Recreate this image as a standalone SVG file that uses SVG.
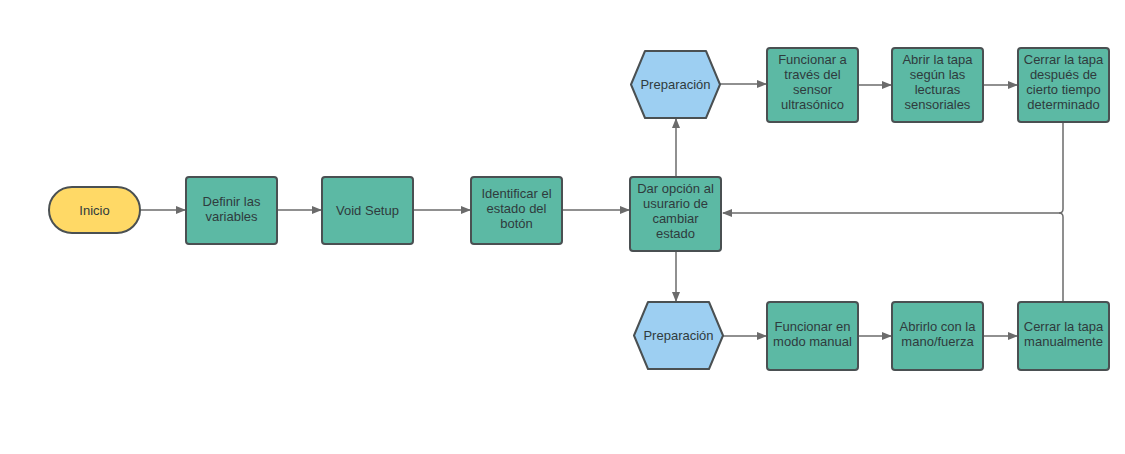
<svg xmlns="http://www.w3.org/2000/svg" width="1125" height="454" viewBox="0 0 1125 454">
<style>
.g{fill:#5cb9a4;stroke:#4a5052;stroke-width:2}
.y{fill:#ffd966;stroke:#4a5052;stroke-width:2}
.b{fill:#9dcff2;stroke:#4a5052;stroke-width:2}
text{font-family:"Liberation Sans",Arial,sans-serif;font-size:13px;fill:#2f3b3d;text-anchor:middle}
.c{fill:none;stroke:#6b6b6b;stroke-width:1.5}
</style>
<defs>
<marker id="a" markerWidth="10" markerHeight="8" refX="9" refY="4" orient="auto" markerUnits="userSpaceOnUse">
<path d="M0,0 L10,4 L0,8 Z" fill="#6b6b6b"/>
</marker>
</defs>
<rect width="1125" height="454" fill="#ffffff"/>
<g id="connectors">
<path class="c" d="M140,210 H185" marker-end="url(#a)"/>
<path class="c" d="M277,210 H321" marker-end="url(#a)"/>
<path class="c" d="M413,210 H470" marker-end="url(#a)"/>
<path class="c" d="M562,210 H629" marker-end="url(#a)"/>
<path class="c" d="M676,177 V119" marker-end="url(#a)"/>
<path class="c" d="M676,251 V301" marker-end="url(#a)"/>
<path class="c" d="M720,84 H766" marker-end="url(#a)"/>
<path class="c" d="M858,85 H891" marker-end="url(#a)"/>
<path class="c" d="M983,85 H1017" marker-end="url(#a)"/>
<path class="c" d="M723,336 H766" marker-end="url(#a)"/>
<path class="c" d="M858,336 H891" marker-end="url(#a)"/>
<path class="c" d="M983,336 H1017" marker-end="url(#a)"/>
<path class="c" d="M1063,122 V209 Q1063,213 1059,213"/>
<path class="c" d="M1063,302 V217 Q1063,213 1059,213 H723" marker-end="url(#a)"/>
</g>
<g id="inicio">
<rect class="y" x="49" y="187" width="91" height="46" rx="23"/>
<text x="94.5" y="214.5">Inicio</text>
</g>
<g id="definir">
<rect class="g" x="186" y="177" width="91" height="67" rx="3"/>
<text x="231.5" y="206">Definir las</text>
<text x="231.5" y="221">variables</text>
</g>
<g id="void">
<rect class="g" x="322" y="177" width="91" height="67" rx="3"/>
<text x="367.5" y="214.5">Void Setup</text>
</g>
<g id="identificar">
<rect class="g" x="471" y="177" width="91" height="67" rx="3"/>
<text x="516.5" y="198">Identificar el</text>
<text x="516.5" y="213">estado del</text>
<text x="516.5" y="228">botón</text>
</g>
<g id="dar">
<rect class="g" x="630" y="177" width="91" height="74" rx="3"/>
<text x="675.5" y="193">Dar opción al</text>
<text x="675.5" y="208">usurario de</text>
<text x="675.5" y="223">cambiar</text>
<text x="675.5" y="238">estado</text>
</g>
<g id="prep1">
<path class="b" d="M645,51 H706 L720,84.5 L706,118 H645 L631,84.5 Z" stroke-linejoin="round"/>
<text x="675.5" y="89">Preparación</text>
</g>
<g id="prep2">
<path class="b" d="M648,302 H709 L723,335.5 L709,369 H648 L634,335.5 Z" stroke-linejoin="round"/>
<text x="678.5" y="340">Preparación</text>
</g>
<g id="sensor">
<rect class="g" x="767" y="48" width="91" height="74" rx="3"/>
<text x="812.5" y="64">Funcionar a</text>
<text x="812.5" y="79">través del</text>
<text x="812.5" y="94">sensor</text>
<text x="812.5" y="109">ultrasónico</text>
</g>
<g id="abrir1">
<rect class="g" x="892" y="48" width="91" height="74" rx="3"/>
<text x="937.5" y="64">Abrir la tapa</text>
<text x="937.5" y="79">según las</text>
<text x="937.5" y="94">lecturas</text>
<text x="937.5" y="109">sensoriales</text>
</g>
<g id="cerrar1">
<rect class="g" x="1018" y="48" width="91" height="74" rx="3"/>
<text x="1063.5" y="64">Cerrar la tapa</text>
<text x="1063.5" y="79">después de</text>
<text x="1063.5" y="94">cierto tiempo</text>
<text x="1063.5" y="109">determinado</text>
</g>
<g id="manual">
<rect class="g" x="767" y="302" width="91" height="68" rx="3"/>
<text x="812.5" y="331">Funcionar en</text>
<text x="812.5" y="346">modo manual</text>
</g>
<g id="abrir2">
<rect class="g" x="892" y="302" width="91" height="68" rx="3"/>
<text x="937.5" y="331">Abrirlo con la</text>
<text x="937.5" y="346">mano/fuerza</text>
</g>
<g id="cerrar2">
<rect class="g" x="1018" y="302" width="91" height="68" rx="3"/>
<text x="1063.5" y="331">Cerrar la tapa</text>
<text x="1063.5" y="346">manualmente</text>
</g>
</svg>
